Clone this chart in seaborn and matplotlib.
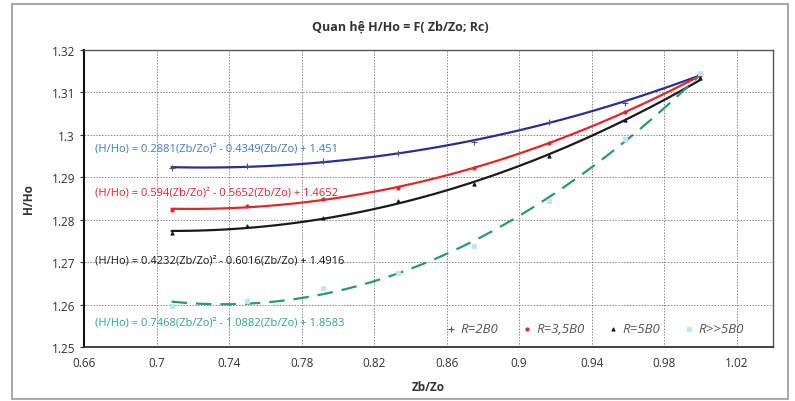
import numpy as np
import pandas as pd
import matplotlib
matplotlib.use("Agg")
import matplotlib.pyplot as plt
import seaborn as sns
from matplotlib.patches import Rectangle

# ---- data ----
zb_zo = [0.7083, 0.75, 0.7917, 0.8333, 0.875, 0.9167, 0.9583, 1.0]
h_r2b0 = [1.2921, 1.2927, 1.2939, 1.2957, 1.2982, 1.3031, 1.3076, 1.3143]
h_r35b0 = [1.2823, 1.2833, 1.2849, 1.2875, 1.2921, 1.2980, 1.3055, 1.3140]
h_r5b0 = [1.2768, 1.2786, 1.2805, 1.2843, 1.2884, 1.2949, 1.3035, 1.3133]
h_rinf = [1.2597, 1.2609, 1.2639, 1.2675, 1.2738, 1.2845, 1.2990, 1.3145]
series_labels = ["R=2B0", "R=3,5B0", "R=5B0", "R>>5B0"]
equations = [
    "(H/Ho) = 0.2881(Zb/Zo)² - 0.4349(Zb/Zo) + 1.451",
    "(H/Ho) = 0.594(Zb/Zo)² - 0.5652(Zb/Zo) + 1.4652",
    "(H/Ho) = 0.4232(Zb/Zo)² - 0.6016(Zb/Zo) + 1.4916",
    "(H/Ho) = 0.7468(Zb/Zo)² - 1.0882(Zb/Zo) + 1.8583",
]
x_ticks = [0.66, 0.70, 0.74, 0.78, 0.82, 0.86, 0.90, 0.94, 0.98, 1.02]
x_tick_labels = ["0.66", "0.7", "0.74", "0.78", "0.82", "0.86", "0.9", "0.94", "0.98", "1.02"]
y_ticks = [1.25, 1.26, 1.27, 1.28, 1.29, 1.30, 1.31, 1.32]
y_tick_labels = ["1.25", "1.26", "1.27", "1.28", "1.29", "1.3", "1.31", "1.32"]
title = "Quan hệ H/Ho = F( Zb/Zo; Rc)"

sns.set_style("white")
plt.rcParams["font.family"] = ["Open Sans", "DejaVu Sans"]

fig = plt.figure(figsize=(7.95, 4.02), dpi=100)
ax = fig.add_axes([84 / 795, 1 - 348 / 402, (773 - 84) / 795, (348 - 51) / 402])

line_colors = ["#2b2f8f", "#e3262b", "#1a1a1a", "#2a9a6c"]
marker_colors = ["#555555", "#e3262b", "#1a1a1a", "#bfe8ee"]
markers = ["+", "o", "^", "s"]
msizes = [16, 5, 5, 10]
line_styles = ["-", "-", "-", (0, (7, 4))]
eq_colors = ["#3d7cc0", "#e3262b", "#1a1a1a", "#2fa58a"]
eq_y = [1.2968, 1.2866, 1.2705, 1.2558]

all_series = [h_r2b0, h_r35b0, h_r5b0, h_rinf]
for i, ys in enumerate(all_series):
    df = pd.DataFrame({"x": zb_zo, "y": ys})
    sns.regplot(data=df, x="x", y="y", order=2, ci=None, truncate=True, ax=ax,
                scatter=False,
                line_kws=dict(color=line_colors[i], lw=1.6, linestyle=line_styles[i]))
    sns.scatterplot(data=df, x="x", y="y", ax=ax, marker=markers[i],
                    s=msizes[i], color=marker_colors[i],
                    edgecolor=marker_colors[i] if markers[i] != "+" else None,
                    linewidth=0.8, label=series_labels[i], zorder=5)
    ax.text(0.666, eq_y[i], equations[i], color=eq_colors[i], fontsize=8,
            va="center", ha="left")

ax.set_xlim(0.66, 1.04)
ax.set_ylim(1.25, 1.32)
ax.set_xticks(x_ticks)
ax.set_xticklabels(x_tick_labels)
ax.set_yticks(y_ticks)
ax.set_yticklabels(y_tick_labels)
ax.tick_params(axis="both", labelsize=8.5, colors="#333333", length=3, direction="out",
               left=True, bottom=False)
ax.grid(True, linestyle=(0, (1.5, 1.5)), color="#888888", lw=0.7)
for side, sp in ax.spines.items():
    sp.set_visible(True)
    sp.set_color("#555555")
    sp.set_linewidth(1.0)
ax.spines["left"].set_color("#111111")
ax.spines["left"].set_linewidth(1.5)
ax.spines["bottom"].set_color("#333333")
ax.spines["bottom"].set_linewidth(1.3)

ax.set_xlabel("Zb/Zo", fontsize=8.5, fontweight="bold", color="#333333", labelpad=8)
ax.set_ylabel("H/Ho", fontsize=8.5, fontweight="bold", color="#333333", labelpad=12)
fig.text(400 / 795, 1 - 27 / 402, title, ha="center", va="center",
         fontsize=9, fontweight="bold", color="#333333")

leg = ax.legend(loc="lower right", ncol=4, frameon=False, fontsize=9.5,
                bbox_to_anchor=(0.975, 0.0), handletextpad=0.1, columnspacing=1.6,
                handlelength=1.2, markerscale=1.0)
for t in leg.get_texts():
    t.set_fontstyle("italic")
    t.set_color("#555555")

fig.patches.append(Rectangle((12 / 795, 0.005), (788 - 12) / 795, 1 - 5 / 402 - 0.005,
                             transform=fig.transFigure, fill=False,
                             edgecolor="#aaaaaa", lw=1.5))

fig.savefig("out.png", dpi=100)
